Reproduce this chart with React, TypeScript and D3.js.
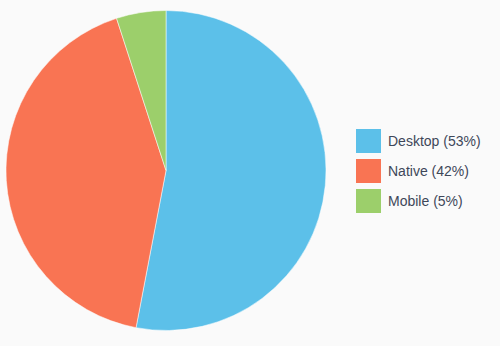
import React from "react";
import * as d3 from "d3";

const categories = ["Desktop", "Native", "Mobile"];
const values = [53, 42, 5];
const colors = ["#5cc0e9", "#f97453", "#9ccf6b"];

export default function App() {
  const W = 500, H = 346;
  const cx = 166, cy = 170.5, r = 160;
  const pie = d3.pie<number>().sort(null).value((d) => d);
  const arcs = pie(values);
  const arcGen = d3.arc<d3.PieArcDatum<number>>().innerRadius(0).outerRadius(r);
  return (
    <svg width={W} height={H} style={{ position: "absolute", left: 0, top: 0 }}>
      <rect width={W} height={H} fill="#fafafa" />
      <g transform={`translate(${cx},${cy})`}>
        {arcs.map((a, i) => (
          <path key={i} d={arcGen(a) || ""} fill={colors[i]} stroke="#ffffff" strokeOpacity={0.5} strokeWidth={1} />
        ))}
      </g>
      <g transform="translate(356,129)">
        {categories.map((c, i) => (
          <g key={c} transform={`translate(0,${i * 30})`}>
            <rect width={25} height={24} fill={colors[i]} />
            <text x={32} y={12} dy="0.35em" fontFamily="Arial, 'Liberation Sans', sans-serif" fontSize={14} fill="#3e4759">
              {`${c} (${values[i]}%)`}
            </text>
          </g>
        ))}
      </g>
    </svg>
  );
}
